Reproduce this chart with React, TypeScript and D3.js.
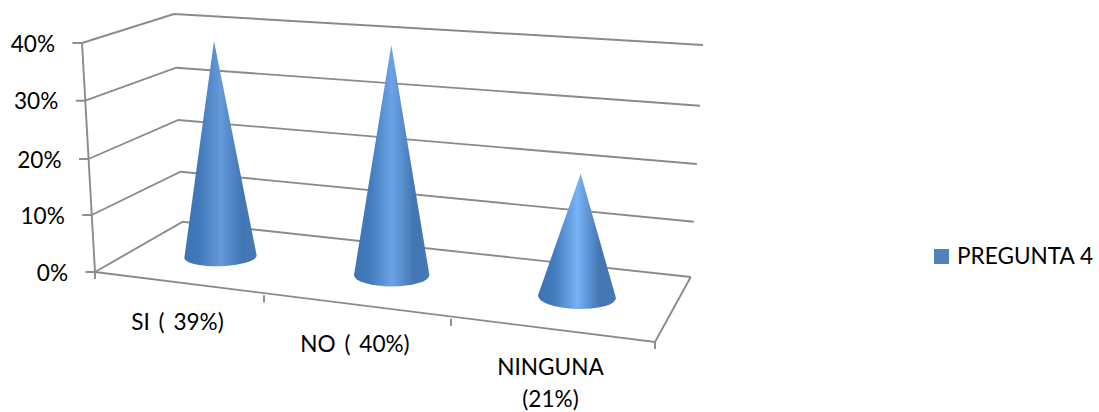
import React from "react";
import * as d3 from "d3";

// Survey results shown as a 3D cone chart
const categories = ["SI ( 39%)", "NO ( 40%)", "NINGUNA (21%)"];
const categoryLines = [["SI ( 39%)"], ["NO ( 40%)"], ["NINGUNA", "(21%)"]];
const values = [0.39, 0.4, 0.21];
const valueTicks = [0, 0.1, 0.2, 0.3, 0.4];
const seriesName = "PREGUNTA 4";

const WIDTH = 1099;
const HEIGHT = 412;
const GRID = "#8a8a8a";
const FONT = "Lato, Carlito, Calibri, sans-serif";
const FONT_SIZE = 22.6;

// Projected box edges: each wall edge maps a value to a screen point
const frontX = d3.scaleLinear().domain([0, 0.4]).range([95, 82]);
const frontY = d3.scaleLinear().domain(valueTicks).range([272, 215, 159, 100.7, 43]);
const backX = d3.scaleLinear().domain([0, 0.4]).range([182.7, 174]);
const backY = d3.scaleLinear().domain(valueTicks).range([221.7, 171.7, 120, 67.7, 14]);
const rightX = d3.scaleLinear().domain([0, 0.4]).range([690.7, 703]);
const rightY = d3.scaleLinear().domain(valueTicks).range([277, 221.7, 164, 105.7, 45]);

// Front floor edge, with perspective-spaced category boundaries
const edgeX = d3.scaleLinear().domain([0, 1, 2, 3]).range([95, 264, 451, 655]);
const edgeY = d3.scaleLinear().domain([0, 3]).range([272, 342]);

// Cone placement on the floor by category index
const baseX = d3.scaleLinear().domain([0, 1, 2]).range([220.5, 391.7, 577]);
const baseY = d3.scaleLinear().domain([0, 1, 2]).range([256.7, 275, 296.7]);
const baseRx = d3.scaleLinear().domain([0, 1, 2]).range([36.2, 37.7, 39]);
const baseRy = d3.scaleLinear().domain([0, 1, 2]).range([9.5, 11.5, 12.3]);
const baseTilt = d3.scaleLinear().domain([0, 1, 2]).range([-2, 0, 2]);
const pixelsPerUnit = d3.scaleLinear().domain([0, 1, 2]).range([553, 575, 586]);
const tipLean = d3.scaleLinear().domain([220.5, 391.7, 577]).range([-6.5, -0.4, 3.7]);
const highlight = d3.scaleLinear<string>().domain([0, 1, 2]).range(["#6499da", "#6ba3e6", "#78b2f6"]);

const labelCenter = [177.5, 355, 550.5];
const labelBaseline = [329.5, 351.5, 375];
const LINE_STEP = 32;

function conePath(i: number, value: number): string {
  const cx = baseX(i);
  const cy = baseY(i);
  const rx = baseRx(i);
  const ry = baseRy(i);
  const t = (baseTilt(i) * Math.PI) / 180;
  const tipX = cx + tipLean(cx);
  const tipY = cy - value * pixelsPerUnit(i);
  const dx = rx * Math.cos(t);
  const dy = rx * Math.sin(t);
  const deg = baseTilt(i);
  return `M${cx - dx},${cy - dy} L${tipX},${tipY} L${cx + dx},${cy + dy} A${rx},${ry} ${deg} 0 1 ${cx - dx},${cy - dy} Z`;
}

export default function App() {
  return (
    <svg
      width={WIDTH}
      height={HEIGHT}
      viewBox={`0 0 ${WIDTH} ${HEIGHT}`}
      style={{ position: "absolute", left: 0, top: 0, display: "block", background: "#fff" }}
    >
      <defs>
        {values.map((_, i) => (
          <linearGradient id={`cone-${i}`} key={i} x1="0" x2="1" y1="0" y2="0">
            <stop offset="0" stopColor="#3f74b5" />
            <stop offset="0.2" stopColor="#4079bb" />
            <stop offset="0.5" stopColor={highlight(i)} />
            <stop offset="0.8" stopColor="#4275b2" />
            <stop offset="1" stopColor="#4578b6" />
          </linearGradient>
        ))}
      </defs>

      {/* Walls and floor */}
      <g fill="none" stroke={GRID} strokeWidth={1.9}>
        {valueTicks.map((v) => (
          <g key={v}>
            <path d={`M${frontX(v)},${frontY(v)} L${backX(v)},${backY(v)} L${rightX(v)},${rightY(v)}`} />
            <line x1={frontX(v) - 9.5} y1={frontY(v)} x2={frontX(v)} y2={frontY(v)} />
          </g>
        ))}
        <line x1={frontX(0)} y1={frontY(0)} x2={frontX(0.4)} y2={frontY(0.4)} />
        <path d={`M${frontX(0)},${frontY(0)} L${edgeX(3)},${edgeY(3)} L${rightX(0)},${rightY(0)}`} />
        {d3.range(4).map((i) => (
          <line key={i} x1={edgeX(i)} y1={edgeY(i)} x2={edgeX(i)} y2={edgeY(i) + 7} />
        ))}
      </g>

      {/* Cones */}
      {values.map((v, i) => (
        <path key={categories[i]} d={conePath(i, v)} fill={`url(#cone-${i})`} />
      ))}

      {/* Value axis labels */}
      <g fontFamily={FONT} fontSize={FONT_SIZE} fill="#000" textAnchor="end">
        {valueTicks.map((v) => (
          <text key={v} x={frontX(v) - 27} y={frontY(v) + 8.5}>
            {d3.format(".0%")(v)}
          </text>
        ))}
      </g>

      {/* Category labels */}
      <g fontFamily={FONT} fontSize={FONT_SIZE} fill="#000" textAnchor="middle" wordSpacing={3}>
        {categoryLines.map((lines, i) =>
          lines.map((line, j) => (
            <text key={line} x={labelCenter[i]} y={labelBaseline[i] + j * LINE_STEP}>
              {line}
            </text>
          ))
        )}
      </g>

      {/* Legend */}
      <rect x={934} y={249} width={15} height={15} fill="#4f81bd" />
      <text x={957} y={263.5} fontFamily={FONT} fontSize={FONT_SIZE} fill="#000">
        {seriesName}
      </text>
    </svg>
  );
}
